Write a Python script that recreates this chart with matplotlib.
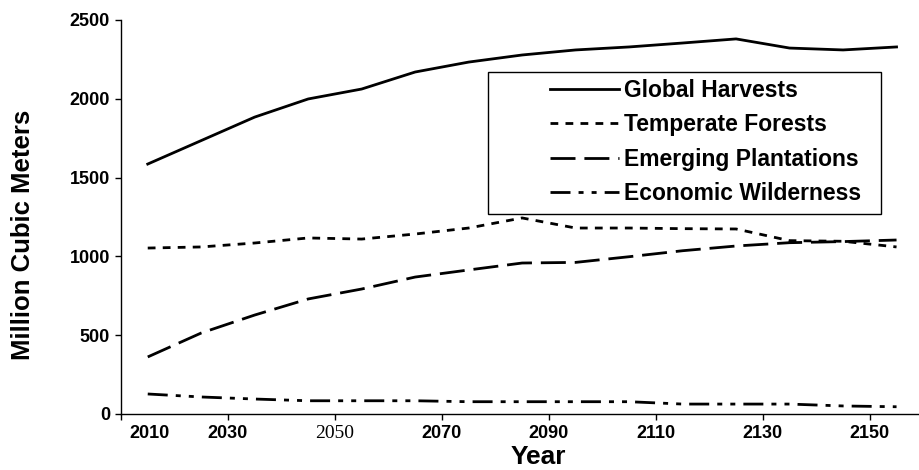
import matplotlib
matplotlib.use("Agg")
import matplotlib.pyplot as plt
from matplotlib.patches import Rectangle

years = [2015, 2025, 2035, 2045, 2055, 2065, 2075, 2085, 2095, 2105, 2115, 2125, 2135, 2145, 2155]
global_harvests = [1586, 1735, 1884, 1999, 2062, 2170, 2233, 2278, 2310, 2329, 2354, 2380, 2322, 2310, 2329]
temperate_forests = [1053, 1060, 1085, 1117, 1110, 1142, 1180, 1244, 1180, 1180, 1176, 1174, 1100, 1096, 1060]
emerging_plantations = [362, 514, 628, 730, 793, 869, 914, 958, 962, 998, 1036, 1066, 1087, 1094, 1104]
economic_wilderness = [127, 108, 95, 84, 84, 84, 78, 78, 78, 78, 63, 63, 63, 51, 46]

series_labels = ["Global Harvests", "Temperate Forests", "Emerging Plantations", "Economic Wilderness"]
xtick_vals = [2010, 2030, 2050, 2070, 2090, 2110, 2130, 2150]
xtick_labels = ["2010", "2030", "2050", "2070", "2090", "2110", "2130", "2150"]
ytick_vals = [0, 500, 1000, 1500, 2000, 2500]

plt.rcParams['font.family'] = ['Liberation Sans', 'DejaVu Sans']

fig = plt.figure(figsize=(9.19, 4.70), dpi=100)
ax = fig.add_axes([121/919, 1 - 414/470, 798/919, (414 - 20)/470])

lw = 2.0
ax.plot(years, global_harvests, color='black', lw=lw, linestyle='-', label=series_labels[0])
ax.plot(years, temperate_forests, color='black', lw=lw, linestyle=(0, (2.8, 2.6)), label=series_labels[1])
ax.plot(years, emerging_plantations, color='black', lw=lw, linestyle=(0, (9, 3.2)), label=series_labels[2])
ax.plot(years, economic_wilderness, color='black', lw=lw,
        linestyle=(0, (7.2, 2.9, 1.8, 2.9, 1.8, 2.9)), label=series_labels[3])

ax.set_xlim(2010, 2159.2)
ax.set_ylim(0, 2500)
for s in ['top', 'right']:
    ax.spines[s].set_visible(False)
for s in ['left', 'bottom']:
    ax.spines[s].set_linewidth(1.0)

ax.set_yticks(ytick_vals)
ax.set_yticklabels([str(v) for v in ytick_vals], fontsize=13, fontweight='bold')
ax.set_xticks(xtick_vals)
labs = [("" if l == "2010" else l) for l in xtick_labels]
ax.set_xticklabels(labs, fontsize=13, fontweight='bold')
for t in ax.get_xticklabels():
    if t.get_text() == "2050":
        t.set_family(['Liberation Serif', 'DejaVu Serif'])
        t.set_fontweight('normal')
        t.set_fontsize(14)
ax.text(2015.4, -0.028, "2010", transform=ax.get_xaxis_transform(), ha='center', va='top',
        fontsize=13, fontweight='bold')
ax.tick_params(axis='both', direction='out', length=4, width=1.0, pad=4)

fig.text(538/919, 1 - 469/470, "Year", ha='center', va='bottom', fontsize=19, fontweight='bold')
fig.text(23/919, 1 - 235/470, "Million Cubic Meters", ha='center', va='center', rotation=90,
         fontsize=18.5, fontweight='bold')

# legend
leg = ax.legend(loc='center left', bbox_to_anchor=(550/919, 1 - 142/470),
                bbox_transform=fig.transFigure, frameon=False, borderpad=0, borderaxespad=0,
                handlelength=3.0, handletextpad=0.25, labelspacing=0.49,
                prop={'family': 'Liberation Sans', 'weight': 'bold', 'size': 16.5})
fig.patches.append(Rectangle((488/919, 1 - 214/470), (881 - 488)/919, (214 - 72)/470,
                             transform=fig.transFigure, fill=False, edgecolor='black', lw=1.0))

fig.savefig("out.png", dpi=100)
